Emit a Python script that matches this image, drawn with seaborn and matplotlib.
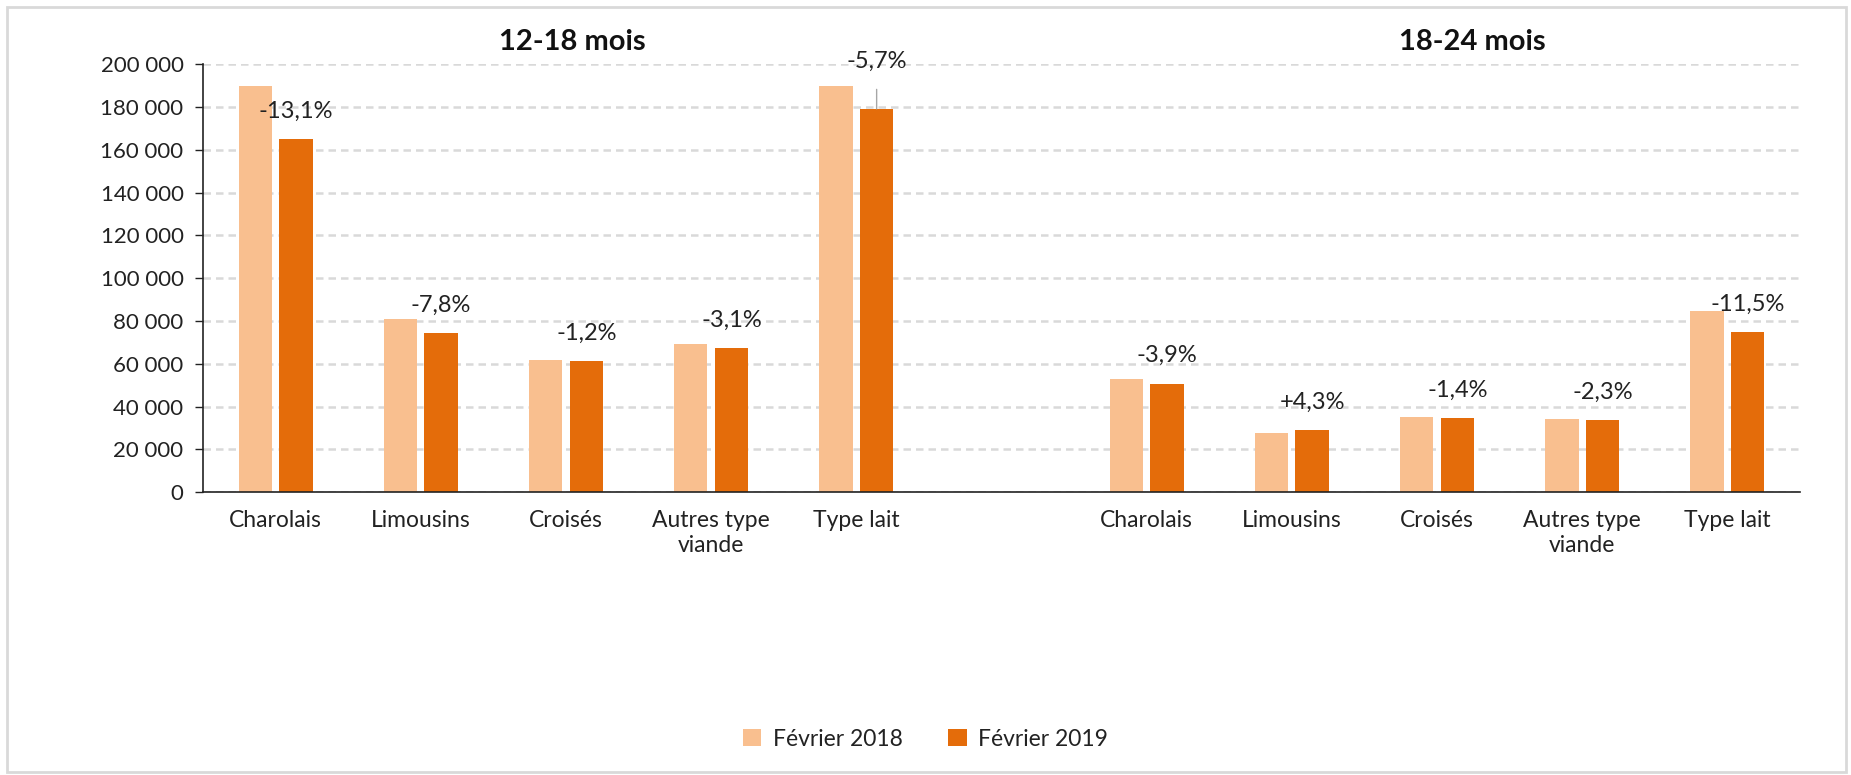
import matplotlib
matplotlib.use("Agg")
import matplotlib.pyplot as plt
from matplotlib.patches import Rectangle
from matplotlib.ticker import FuncFormatter, MultipleLocator
import pandas as pd
import seaborn as sns

# Data
groups = ["12-18 mois", "18-24 mois"]
categories = ["Charolais", "Limousins", "Croisés", "Autres type\nviande", "Type lait"]
series = ["Février 2018", "Février 2019"]
feb_2018_young = [190000, 80800, 61900, 69300, 190000]
feb_2019_young = [165100, 74500, 61150, 67150, 179150]
feb_2018_old = [52800, 27800, 35000, 34300, 84700]
feb_2019_old = [50750, 29000, 34500, 33500, 74950]
pct_young = ["-13,1%", "-7,8%", "-1,2%", "-3,1%", "-5,7%"]
pct_old = ["-3,9%", "+4,3%", "-1,4%", "-2,3%", "-11,5%"]

colors = ["#F9BF8F", "#E46C0A"]


def build_frame() -> pd.DataFrame:
    rows = []
    for grp, v18, v19 in [
        (groups[0], feb_2018_young, feb_2019_young),
        (groups[1], feb_2018_old, feb_2019_old),
    ]:
        for cat, a, b in zip(categories, v18, v19):
            slot = f"{grp}|{cat}"
            rows.append({"slot": slot, "serie": series[0], "value": a})
            rows.append({"slot": slot, "serie": series[1], "value": b})
    return pd.DataFrame(rows)


def main() -> None:
    sns.set_theme(style="white")
    plt.rcParams["font.family"] = ["Lato", "DejaVu Sans"]

    df = build_frame()
    order = [f"{groups[0]}|{c}" for c in categories] + ["spacer"] + [
        f"{groups[1]}|{c}" for c in categories
    ]

    fig = plt.figure(figsize=(18.51, 7.75), dpi=100)
    ax = fig.add_axes([0.1097, 0.365, 0.8627, 0.552])

    sns.barplot(
        data=df, x="slot", y="value", hue="serie", order=order,
        hue_order=series, palette=colors, saturation=1, width=0.56, gap=0.18,
        linewidth=0, errorbar=None, ax=ax,
    )

    ax.set_ylim(0, 200000)
    ax.set_xlim(-0.5, len(order) - 0.5)
    ax.yaxis.set_major_locator(MultipleLocator(20000))
    ax.yaxis.set_major_formatter(
        FuncFormatter(lambda v, _: f"{int(v):,}".replace(",", " "))
    )
    ax.grid(axis="y", color="#D9D9D9", linestyle=(0, (3, 2)), linewidth=1.8)
    ax.set_axisbelow(True)
    ax.set_xlabel("")
    ax.set_ylabel("")

    ax.set_xticks(range(len(order)))
    ax.set_xticklabels(categories + [""] + categories)
    ax.tick_params(axis="x", length=0, pad=13, labelsize=16.5, colors="#222222")
    ax.tick_params(axis="y", length=6, width=1, direction="out", left=True,
                   pad=8, labelsize=16, colors="#222222")
    for side in ["top", "right"]:
        ax.spines[side].set_visible(False)
    for side in ["left", "bottom"]:
        ax.spines[side].set_color("#222222")
        ax.spines[side].set_linewidth(1.2)
    for lab in ax.get_xticklabels():
        lab.set_linespacing(1.25)
        lab.set_verticalalignment("top")

    # percentage labels above the 2019 bars
    bars19 = sorted(ax.containers[1], key=lambda p: p.get_x())
    labels = pct_young + pct_old
    for i, (bar, txt) in enumerate(zip(bars19, labels)):
        xc = bar.get_x() + bar.get_width() / 2
        top = bar.get_height()
        if i == 4:
            ax.annotate(
                txt, xy=(xc, top), xytext=(0, 34), textcoords="offset points",
                ha="center", va="center", fontsize=17, color="#222222",
                arrowprops=dict(arrowstyle="-", color="#A6A6A6", lw=1,
                                shrinkA=10, shrinkB=0),
            )
        else:
            ax.annotate(
                txt, xy=(xc, top), xytext=(0, 20), textcoords="offset points",
                ha="center", va="center", fontsize=17, color="#222222",
            )

    ax.text(0.231, 1.052, groups[0], transform=ax.transAxes, ha="center",
            va="center", fontsize=21, fontweight="bold", color="#111111")
    ax.text(0.795, 1.052, groups[1], transform=ax.transAxes, ha="center",
            va="center", fontsize=21, fontweight="bold", color="#111111")

    handles, labs = ax.get_legend_handles_labels()
    ax.legend_.remove()
    fig.legend(handles, labs, loc="center", bbox_to_anchor=(0.5, 1 - 739 / 775),
               ncol=2, frameon=False, fontsize=16.5, handlelength=0.8,
               handleheight=0.8, columnspacing=2.0, handletextpad=0.5,
               labelcolor="#222222")

    fig.patches.append(Rectangle((7 / 1851, 3 / 775), 1839 / 1851, 765 / 775,
                                 transform=fig.transFigure, fill=False,
                                 edgecolor="#D9D9D9", linewidth=2))

    fig.savefig("out.png", dpi=100, facecolor="white")
    plt.close(fig)


if __name__ == "__main__":
    main()
